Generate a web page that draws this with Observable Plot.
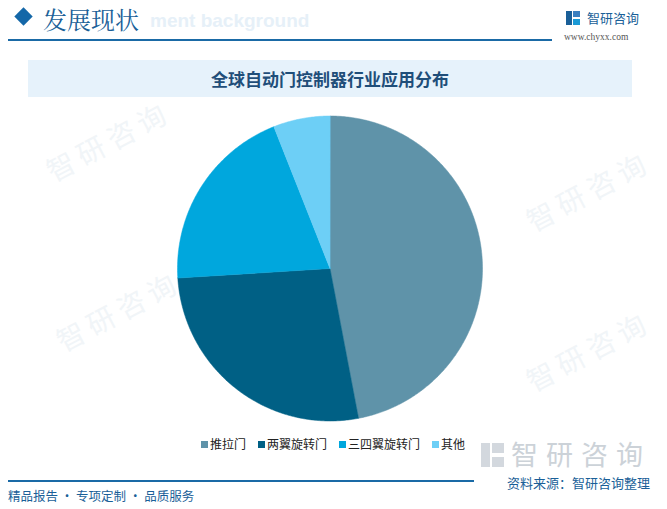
<!DOCTYPE html>
<html>
<head>
<meta charset="utf-8">
<script src="https://cdn.jsdelivr.net/npm/d3@7"></script>
<script src="https://cdn.jsdelivr.net/npm/@observablehq/plot@0.6"></script>
<style>
  html, body { margin: 0; padding: 0; background: #fff; }
  body { width: 667px; height: 509px; position: relative; overflow: hidden;
         font-family: "Noto Sans CJK SC", "Noto Sans", sans-serif; }
  .abs { position: absolute; white-space: nowrap; }
  #chart { position: absolute; left: 0; top: 0; }
  .wm { position: absolute; color: #f1f5f8; font-size: 28px; transform: rotate(-28deg); white-space: nowrap; letter-spacing: 6px; }
</style>
</head>
<body>
<div class="wm" style="left:40px;top:120px;">智研咨询</div>
<div class="wm" style="left:50px;top:290px;">智研咨询</div>
<div class="wm" style="left:520px;top:330px;">智研咨询</div>
<div class="wm" style="left:520px;top:170px;">智研咨询</div>
<div id="chart"></div>

<!-- header -->
<div class="abs" style="left:17px;top:10px;width:13px;height:13px;background:#1467a8;transform:rotate(45deg);"></div>
<div class="abs" style="left:150px;top:10px;font-family:'Liberation Sans',Arial,sans-serif;font-weight:bold;font-size:19px;color:#e6f0f8;">ment background</div>
<div class="abs" style="left:43px;top:1px;font-size:24px;color:#1a5f98;font-family:'Noto Serif CJK SC','Noto Sans CJK SC',serif;">发展现状</div>
<div class="abs" style="left:8px;top:39px;width:544px;height:2px;background:#1a6aa6;"></div>
<div class="abs" style="left:566px;top:11px;width:6px;height:14px;background:#1a5f98;"></div>
<div class="abs" style="left:573px;top:11px;width:7px;height:6px;background:#3a7fc0;"></div>
<div class="abs" style="left:573px;top:19px;width:7px;height:6px;background:#1a9ad6;"></div>
<div class="abs" style="left:587px;top:8px;font-size:13px;color:#1a5f98;">智研咨询</div>
<div class="abs" style="left:564px;top:32px;font-size:9.5px;color:#555;font-family:'Liberation Serif','DejaVu Serif',serif;">www.chyxx.com</div>

<!-- title band -->
<div class="abs" style="left:28px;top:60px;width:604px;height:37px;background:#e6f2fb;"></div>
<div class="abs" style="left:28px;top:60px;width:604px;height:37px;line-height:37px;text-align:center;font-size:17px;color:#1f4e79;font-weight:bold;">全球自动门控制器行业应用分布</div>

<!-- legend -->
<div id="legend" class="abs" style="left:201px;top:436px;font-size:12px;color:#222;line-height:16px;"></div>

<!-- footer -->
<div class="abs" style="left:481px;top:443px;width:9px;height:24px;background:#d3d8de;"></div>
<div class="abs" style="left:492px;top:443px;width:12px;height:10px;background:#d3d8de;"></div>
<div class="abs" style="left:492px;top:457px;width:12px;height:10px;background:#d3d8de;"></div>
<div class="abs" style="left:511px;top:440px;font-size:27px;line-height:27px;color:#ccd2d8;letter-spacing:8px;">智研咨询</div>
<div class="abs" style="left:8px;top:480px;width:466px;height:2px;background:#1a6aa6;"></div>
<div class="abs" style="left:8px;top:486px;font-size:12.5px;color:#1a5f98;">精品报告 · 专项定制 · 品质服务</div>
<div class="abs" style="left:507px;top:475px;font-size:13px;line-height:15px;color:#1a5f98;">资料来源：智研咨询整理</div>

<script>
const categories = ["推拉门", "两翼旋转门", "三四翼旋转门", "其他"];
const shares = [47, 27, 20, 6];
const colors = ["#5f93a9", "#006085", "#00a7dd", "#6dcff6"];

const W = 667, H = 509, cx = 329.5, cy = 268, R = 152.5;

const pie = d3.pie().sort(null).value(d => d.value)(
  categories.map((c, i) => ({category: c, value: shares[i]}))
);
// polygon points of each slice in unit coordinates (y up), start at 12 o'clock, clockwise
const pts = [];
pie.forEach(p => {
  const n = Math.max(2, Math.ceil((p.endAngle - p.startAngle) / 0.01));
  pts.push({category: p.data.category, x: 0, y: 0});
  for (let k = 0; k <= n; k++) {
    const a = p.startAngle + (p.endAngle - p.startAngle) * k / n;
    pts.push({category: p.data.category, x: Math.sin(a), y: Math.cos(a)});
  }
});

const chart = Plot.plot({
  width: W, height: H,
  margin: 0,
  x: {domain: [-cx / R, (W - cx) / R], axis: null},
  y: {domain: [-(H - cy) / R, cy / R], axis: null},
  color: {domain: categories, range: colors},
  style: {background: "transparent"},
  marks: [
    Plot.line(pts, {x: "x", y: "y", z: "category", fill: "category",
      stroke: "category", strokeWidth: 0.5, curve: "linear-closed"})
  ]
});
document.getElementById("chart").appendChild(chart);

const lg = document.getElementById("legend");
const gaps = [0, 12, 12, 12];
categories.forEach((c, i) => {
  const s = document.createElement("span");
  s.style.marginLeft = gaps[i] + "px";
  s.innerHTML = `<span style="display:inline-block;width:7px;height:7px;background:${colors[i]};margin-right:2px;vertical-align:1px;"></span>${c}`;
  lg.appendChild(s);
});
</script>
</body>
</html>
